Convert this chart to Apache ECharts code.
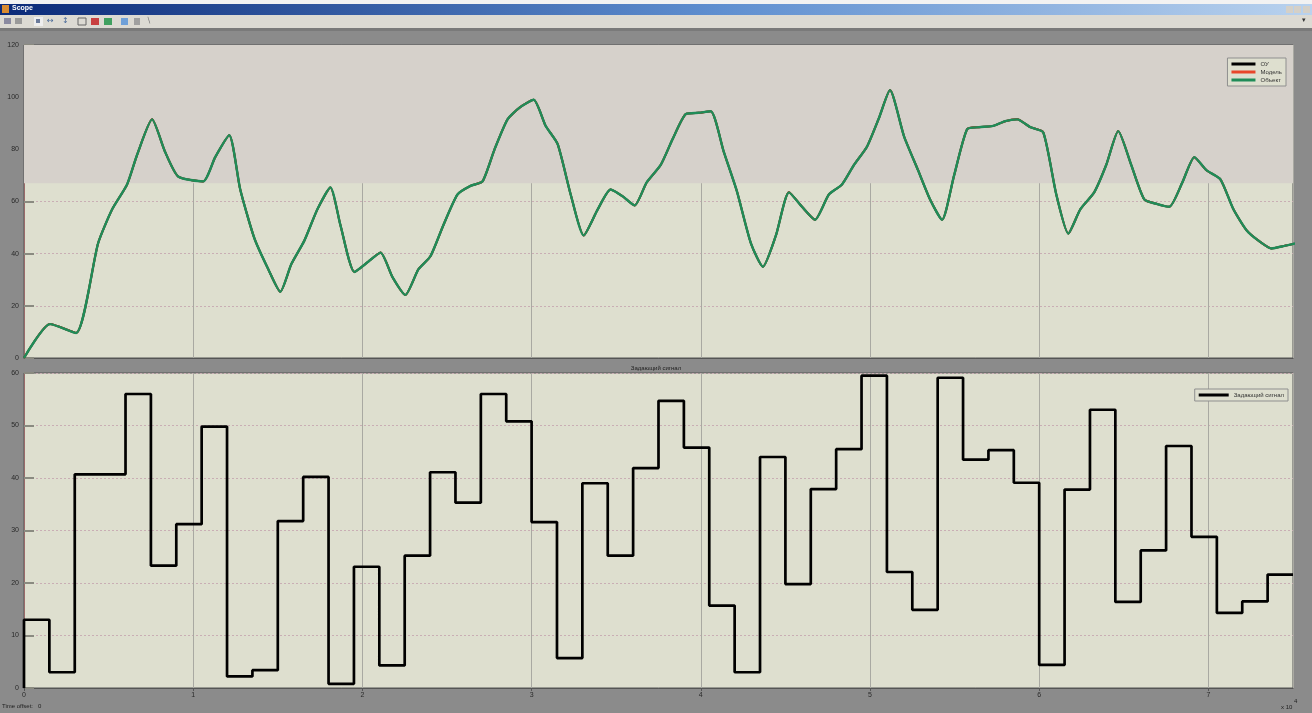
<!DOCTYPE html>
<html><head><meta charset="utf-8">
<script src="https://cdn.jsdelivr.net/npm/echarts@6/dist/echarts.min.js"></script>
<style>html,body{margin:0;padding:0;background:#8b8b8b;}#c{width:1312px;height:713px;}</style>
</head><body><div id="c"></div>
<script>
// ---- data (time in units of x10^4 s) ----
const xTicks = [0,1,2,3,4,5,6,7];
const topTicks = [0,20,40,60,80,100,120];
const bottomTicks = [0,10,20,30,40,50,60];
const legendTop = ['ОУ','Модель','Объект'];
const bottomTitle = 'Задающий сигнал';

const objTime = [0,0.154,0.308,0.438,0.521,0.609,0.669,0.757,0.834,0.911,1.059,1.130,1.213,1.278,1.361,1.444,1.515,1.580,1.657,1.734,1.811,1.870,1.953,2.036,2.107,2.178,2.254,2.331,2.402,2.479,2.562,2.639,2.710,2.781,2.858,2.929,3.012,3.083,3.154,3.231,3.308,3.391,3.467,3.538,3.609,3.680,3.763,3.834,3.911,3.988,4.059,4.136,4.213,4.296,4.367,4.444,4.521,4.598,4.675,4.757,4.834,4.905,4.982,5.053,5.118,5.201,5.284,5.355,5.426,5.497,5.574,5.645,5.728,5.799,5.870,5.947,6.024,6.101,6.172,6.243,6.325,6.396,6.467,6.544,6.621,6.698,6.769,6.846,6.917,6.988,7.071,7.148,7.225,7.296,7.373,7.450,7.521];
const objValue = [0,13,9.6,44,57,66.5,78,91.5,79,69.6,67.7,77,85.4,64.6,46,34,25.4,36,45,57,65.4,51,33,37,40.4,31,24.2,34,39,51,62.7,66,67.7,80,91.5,96,99,89,82,62.7,47,57,64.6,62,58.5,67.3,74,84,93.5,94,94.6,79,64,44,35,47,63.5,58,53,62.7,66.5,74,81,92,102.7,85,72,60.8,53,70,87.7,88.5,89,90.8,91.5,88.5,86.5,62.7,47.7,57,63.5,74,87,74,60.8,59,58,67.3,77,72,68.5,57,49,45,42,43,44];

const stepPeriod = 0.15;
const stepValue = [13,3,40.7,40.7,56,23.3,31.2,49.8,2.2,3.4,31.8,40.2,0.8,23.1,4.3,25.2,41.1,35.3,56,50.8,31.6,5.7,39,25.2,41.9,54.7,45.8,15.7,3,44,19.8,37.9,45.5,59.5,22.1,14.9,59.1,43.5,45.3,39.1,4.4,37.8,53,16.4,26.2,46.1,28.8,14.3,16.5,21.6];

// ---- build ----
const topData = objTime.map((t,i)=>[t,objValue[i]]);
const stepData = [[0,0]];
stepValue.forEach((v,k)=>stepData.push([k*stepPeriod,v]));
stepData.push([stepValue.length*stepPeriod, stepValue[stepValue.length-1]]);

const plotBg = '#dedfcf';
const lblStyle = {fontSize:7,color:'#2a2a2a',fontFamily:'Liberation Sans, Arial, sans-serif'};

function yAxis(gi,max,interval){
  return {type:'value',gridIndex:gi,min:0,max:max,interval:interval,
    axisLine:{show:true,lineStyle:{color:'#9a6a6a',width:1}},
    axisTick:{show:true,inside:true,length:10,lineStyle:{color:'#8a8a80',width:2}},
    axisLabel:Object.assign({margin:5},lblStyle),
    splitLine:{show:true,lineStyle:{color:'#c9aeb4',type:[2,2],width:1}}};
}
function xAxis(gi,showLabel){
  return {type:'value',gridIndex:gi,min:0,max:7.5,interval:1,
    axisLine:{show:true,onZero:false,lineStyle:{color:'#555',width:1}},
    axisTick:{show:showLabel,inside:false,length:3,lineStyle:{color:'#555'}},
    axisLabel:Object.assign({show:showLabel,margin:4,showMaxLabel:false,formatter:v=>String(v)},lblStyle),
    splitLine:{show:true,lineStyle:{color:'#a9a9a2',width:1}}};
}

const chart = echarts.init(document.getElementById('c'),null,{renderer:'canvas'});
chart.setOption({
  backgroundColor:'#8b8b8b',
  animation:false,
  grid:[
    {left:24,right:19,top:45,height:313,show:true,backgroundColor:plotBg,borderColor:'#555',borderWidth:1},
    {left:24,right:19,top:373,height:315,show:true,backgroundColor:plotBg,borderColor:'#555',borderWidth:1}
  ],
  xAxis:[xAxis(0,false),xAxis(1,true)],
  yAxis:[yAxis(0,120,20),yAxis(1,60,10)],
  legend:[
    {data:legendTop,orient:'vertical',right:26,top:58,itemWidth:24,itemHeight:3,itemGap:2,
     padding:[3,4,3,4],backgroundColor:plotBg,borderColor:'#8f8f8f',borderWidth:1,
     textStyle:{fontSize:6,color:'#333'},icon:'rect'},
    {data:[bottomTitle],orient:'vertical',right:24,top:389,itemWidth:30,itemHeight:3,
     padding:[3,4,3,4],backgroundColor:plotBg,borderColor:'#8f8f8f',borderWidth:1,
     textStyle:{fontSize:6,color:'#333'},icon:'rect'}
  ],
  series:[
    {name:'ОУ',type:'line',xAxisIndex:0,yAxisIndex:0,data:topData,showSymbol:false,smooth:0.2,
     lineStyle:{color:'#000',width:2},itemStyle:{color:'#000'},
     markArea:{silent:true,itemStyle:{color:'#d6d1cb'},data:[[{yAxis:67},{yAxis:120}]]},z:1},
    {name:'Модель',type:'line',xAxisIndex:0,yAxisIndex:0,data:topData,showSymbol:false,smooth:0.2,
     lineStyle:{color:'#e8462a',width:2},itemStyle:{color:'#e8462a'},z:2},
    {name:'Объект',type:'line',xAxisIndex:0,yAxisIndex:0,data:topData,showSymbol:false,smooth:0.2,
     lineStyle:{color:'#1f8c58',width:2.4},itemStyle:{color:'#1f8c58'},z:3},
    {name:bottomTitle,type:'line',xAxisIndex:1,yAxisIndex:1,data:stepData,step:'end',showSymbol:false,
     lineStyle:{color:'#000',width:2.7},itemStyle:{color:'#000'},z:3}
  ],
  graphic:[
    {type:'rect',shape:{x:0,y:0,width:1312,height:5},style:{fill:'#f2f2f2'},silent:true},
    {type:'rect',shape:{x:0,y:4,width:1312,height:11},
     style:{fill:new echarts.graphic.LinearGradient(0,0,1,0,[{offset:0,color:'#0b2a78'},{offset:0.55,color:'#5f8fd0'},{offset:1,color:'#b9d2ee'}])},silent:true},
    {type:'text',left:12,top:5,style:{text:'Scope',fill:'#fff',font:'bold 7px Liberation Sans, Arial'}},
    {type:'rect',shape:{x:2,y:5,width:7,height:8},style:{fill:'#d88a30'}},
    {type:'rect',shape:{x:1286,y:6,width:7,height:7},style:{fill:'#d4d0c8'}},
    {type:'rect',shape:{x:1294,y:6,width:7,height:7},style:{fill:'#d4d0c8'}},
    {type:'rect',shape:{x:1303,y:6,width:7,height:7},style:{fill:'#d4d0c8'}},
    {type:'rect',shape:{x:0,y:15,width:1312,height:13},style:{fill:'#dcdad3'},silent:true},
    {type:'rect',shape:{x:0,y:28,width:1312,height:3},style:{fill:'#7a7a7a'},silent:true},
    {type:'rect',shape:{x:4,y:18,width:7,height:6},style:{fill:'#8a8aa0'}},
    {type:'rect',shape:{x:15,y:18,width:7,height:6},style:{fill:'#9a9a9a'}},
    {type:'rect',shape:{x:34,y:17,width:9,height:9},style:{fill:'#eeeeee'}},
    {type:'rect',shape:{x:36,y:19,width:4,height:4},style:{fill:'#6a7a9a'}},
    {type:'text',left:47,top:17,style:{text:'↔',fill:'#4a6a9a',font:'8px DejaVu Sans'}},
    {type:'text',left:62,top:17,style:{text:'↕',fill:'#4a6a9a',font:'8px DejaVu Sans'}},
    {type:'rect',shape:{x:78,y:18,width:8,height:7},style:{fill:'none',stroke:'#666',lineWidth:1}},
    {type:'rect',shape:{x:91,y:18,width:8,height:7},style:{fill:'#c84040'}},
    {type:'rect',shape:{x:104,y:18,width:8,height:7},style:{fill:'#40a060'}},
    {type:'rect',shape:{x:121,y:18,width:7,height:7},style:{fill:'#6fa0d8'}},
    {type:'rect',shape:{x:134,y:18,width:6,height:7},style:{fill:'#a0a0a0'}},
    {type:'text',left:146,top:17,style:{text:'∖',fill:'#777',font:'8px DejaVu Sans'}},
    {type:'text',left:1302,top:17,style:{text:'▾',fill:'#333',font:'7px DejaVu Sans'}},
    {type:'text',x:656,y:368,style:{text:bottomTitle,fill:'#222',font:'6px Liberation Sans, Arial',align:'center',verticalAlign:'middle'}},
    {type:'text',x:2,y:706,style:{text:'Time offset:   0',fill:'#222',font:'6px Liberation Sans, Arial',verticalAlign:'middle'}},
    {type:'text',x:1281,y:707,style:{text:'x 10',fill:'#222',font:'6px Liberation Sans, Arial',verticalAlign:'middle'}},
    {type:'text',x:1294,y:701,style:{text:'4',fill:'#222',font:'6px Liberation Sans, Arial',verticalAlign:'middle'}}
  ]
});
</script></body></html>
